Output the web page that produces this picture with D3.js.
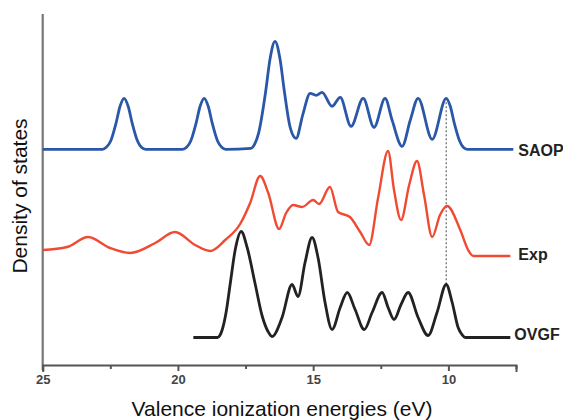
<!DOCTYPE html>
<meta charset="utf-8">
<style>
body { margin: 0; background: #fff; }
text { font-family: "Liberation Sans", Arial, sans-serif; }
.tick text { font-weight: bold; font-size: 13px; fill: #444; }
.lbl { font-weight: bold; font-size: 16px; fill: #222; }
</style>
<svg id="chart" width="563" height="420"></svg>
<script src="https://d3js.org/d3.v7.min.js"></script>
<script>

// energies (eV) and density above each curve's own baseline (arbitrary units)
var saopE = [25, 22.79, 22.65, 22.49, 22.29, 22.14, 21.99, 21.84, 21.69, 21.49, 21.35, 21.19,
  19.83, 19.68, 19.53, 19.33, 19.18, 19.03, 18.88, 18.73, 18.53, 18.38, 18.23,
  17.3, 17.15, 17.01, 16.76, 16.59, 16.41, 16.23, 16.06, 15.85, 15.63, 15.38,
  15.11, 14.89, 14.67, 14.3, 14.0, 13.6, 13.15, 12.75, 12.34, 12.08, 11.71,
  11.41, 11.12, 10.6, 10.08, 9.93, 9.78, 9.58, 9.45, 9.3, 7.6];
var saopD = [0, 0, 2, 8, 26, 43, 51, 43, 26, 8, 2, 0,
  0, 2, 8, 26, 43, 51, 43, 26, 8, 2, 0,
  1, 6, 17, 57, 91, 108, 91, 57, 22, 11, 35,
  56, 54, 57, 43, 52, 23, 51, 22, 51, 29, 3,
  29, 51, 10, 51, 43, 26, 8, 2, 0, 0];

var expE = [25, 24.1, 23.32, 22.51, 21.77, 20.84, 20.11, 19.36, 18.81, 18.25,
  17.7, 17.33, 16.96, 16.66, 16.26, 16.0, 15.74, 15.41, 15.0, 14.78, 14.38,
  14.08, 13.64, 13.26, 12.93, 12.6, 12.23, 12.01, 11.75, 11.45, 11.16, 10.9,
  10.6, 10.31, 10.05, 9.56, 9.27, 9.08, 7.71];
var expD = [6, 9, 19, 8, 3, 13, 24, 11, 5, 16,
  32, 53, 80, 63, 27, 43, 51, 49, 56, 52, 69,
  44, 39, 24, 11, 58, 105, 66, 36, 71, 95, 61,
  19, 41, 50, 26, 6, 0, 0];

var ovgfE = [19.43, 18.54, 18.45, 18.36, 18.22, 18.07, 17.88, 17.66, 17.44, 17.14, 16.89,
  16.67, 16.52, 16.15, 15.78, 15.56, 15.3, 15.04, 14.82, 14.56, 14.3, 14.0,
  13.74, 13.45, 13.11, 12.82, 12.45, 12.23, 12.01, 11.75, 11.49, 11.12,
  10.75, 10.42, 10.08, 9.86, 9.64, 9.5, 9.38, 7.71];
var ovgfD = [0, 0, 2, 8, 25, 53, 88, 106, 90, 53, 22,
  6, 1, 20, 53, 41, 75, 100, 80, 35, 8, 30,
  45, 28, 8, 25, 45, 30, 18, 33, 45, 20,
  2, 25, 53, 35, 10, 3, 0, 0];

var seriesNames = ["SAOP", "Exp", "OVGF"];
var seriesOffsets = [215.7, 109, 27.5];
var seriesColors = ["#2b57a8", "#f04a32", "#222222"];
var refEnergy = 10.08;

var majorTicks = [25, 20, 15, 10];
var allTicks = [25, 22.5, 20, 17.5, 15, 12.5, 10, 7.5];

var svg = d3.select("#chart");

var x = d3.scaleLinear().domain([25, 7.5]).range([42.7, 516]);
var y = d3.scaleLinear().domain([0, 351]).range([365, 14]);

var series = [
  { e: saopE, d: saopD },
  { e: expE, d: expD },
  { e: ovgfE, d: ovgfD }
];

// y axis (no ticks)
svg.append("line")
  .attr("x1", x(25)).attr("x2", x(25))
  .attr("y1", y(351)).attr("y2", y(0) + 5)
  .attr("stroke", "#777").attr("stroke-width", 2.2);

// x axis
var xAxis = d3.axisBottom(x)
  .tickValues(allTicks)
  .tickSizeOuter(0)
  .tickSize(7)
  .tickFormat(function(d){ return majorTicks.indexOf(d) >= 0 ? d : ""; });

var gx = svg.append("g")
  .attr("transform", "translate(0," + y(0) + ")")
  .call(xAxis);
gx.select(".domain").attr("stroke", "#555").attr("stroke-width", 2);
gx.selectAll(".tick line")
  .attr("stroke", "#555").attr("stroke-width", 2)
  .attr("y2", function(d){ return majorTicks.indexOf(d) >= 0 ? 6 : 4; });
gx.selectAll(".tick text").attr("y", 10);

// reference dotted line
var si = saopE.indexOf(refEnergy), oi = ovgfE.indexOf(refEnergy);
svg.append("line")
  .attr("x1", x(refEnergy)).attr("x2", x(refEnergy))
  .attr("y1", y(saopD[si] + seriesOffsets[0]))
  .attr("y2", y(ovgfD[oi] + seriesOffsets[2]))
  .attr("stroke", "#666").attr("stroke-width", 1.2)
  .attr("stroke-dasharray", "2,2");

// curves
var labelDy = [7, 4, 2];
var labelDx = [5, 8, 4];
series.forEach(function(s, k) {
  var pts = s.e.map(function(e, i){ return [e, s.d[i]]; });
  var line = d3.line()
    .x(function(p){ return x(p[0]); })
    .y(function(p){ return y(p[1] + seriesOffsets[k]); })
    .curve(d3.curveMonotoneX);
  svg.append("path")
    .attr("d", line(pts))
    .attr("fill", "none")
    .attr("stroke", seriesColors[k])
    .attr("stroke-width", k == 1 ? 2.4 : 2.8)
    .attr("stroke-linejoin", "round");

  var last = s.e[s.e.length - 1];
  svg.append("text")
    .attr("class", "lbl")
    .attr("x", x(last) + labelDx[k])
    .attr("y", y(seriesOffsets[k]) + labelDy[k])
    .text(seriesNames[k]);
});

// axis titles
svg.append("text")
  .attr("x", 282).attr("y", 416)
  .attr("text-anchor", "middle")
  .attr("font-size", "21px").attr("fill", "#111")
  .text("Valence ionization energies (eV)");

svg.append("text")
  .attr("transform", "translate(27,196) rotate(-90)")
  .attr("text-anchor", "middle")
  .attr("font-size", "21px").attr("fill", "#111")
  .text("Density of states");

</script>
